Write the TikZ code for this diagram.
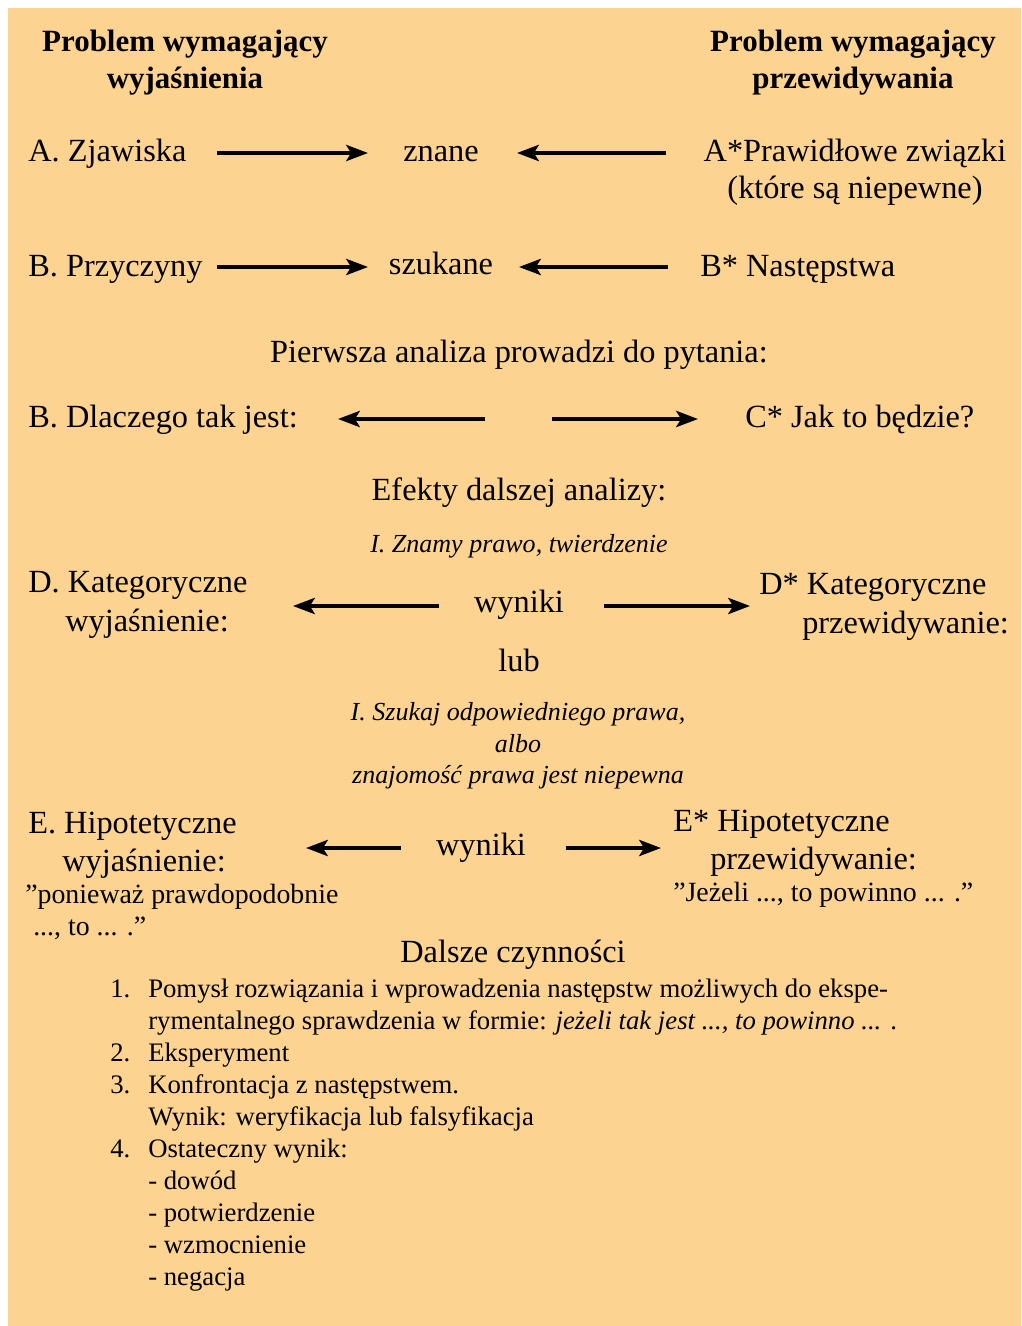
\documentclass[tikz,border=0pt]{standalone}
\usepackage{fontspec}
\setmainfont{Liberation Serif}
\usetikzlibrary{arrows.meta}
\definecolor{tlo}{RGB}{252,211,145}
\tikzset{
  tekst/.style={font=\fontsize{23pt}{28pt}\selectfont, inner sep=0pt},
  nagl/.style={font=\fontsize{22pt}{26pt}\selectfont\bfseries, inner sep=0pt, anchor=base},
  kurs/.style={font=\fontsize{18.5pt}{22pt}\selectfont\itshape, inner sep=0pt, anchor=base},
  maly/.style={font=\fontsize{19.8pt}{24pt}\selectfont, inner sep=0pt, anchor=base west},
  lista/.style={font=\fontsize{19pt}{22.8pt}\selectfont, inner sep=0pt, anchor=base west},
  strz/.style={-{Stealth[length=15.5pt,width=11.5pt,inset=3.5pt]}, line width=2.6pt}
}
\begin{document}
\begin{tikzpicture}[x=0.025cm, y=-0.025cm]
  \useasboundingbox (0,0) rectangle (1021,1326);
  \fill[white] (0,0) rectangle (1021,1326);
  \fill[tlo] (8,8) rectangle (1021,1326);
  % naglowki
  \node[nagl] (hdrL1) at (185,52) {Problem wymagający};
  \node[nagl] (hdrL2) at (185,89) {wyjaśnienia};
  \node[nagl] (hdrR1) at (853,52) {Problem wymagający};
  \node[nagl] (hdrR2) at (853,89) {przewidywania};
  % wiersz A
  \node[tekst, anchor=base west] (zjaw) at (28,162) {A. Zjawiska};
  \node[tekst, anchor=base] (znane) at (441,162) {znane};
  \node[tekst, anchor=base] (praw) at (855,162) {A*Prawidłowe związki};
  \node[tekst, anchor=base] (praw2) at (855,199) {(które są niepewne)};
  \coordinate (a1) at (217,153); \coordinate (a2) at (368,153);
  \coordinate (a3) at (666,153); \coordinate (a4) at (517,153);
  \draw[strz] (a1) -- (a2);
  \draw[strz] (a3) -- (a4);
  % wiersz B
  \node[tekst, anchor=base west] (przycz) at (28,276) {B. Przyczyny};
  \node[tekst, anchor=base] (szuk) at (441,275) {szukane};
  \node[tekst, anchor=base west] (nast) at (700,276) {B* Następstwa};
  \coordinate (b1) at (217,267); \coordinate (b2) at (368,267);
  \coordinate (b3) at (668,267); \coordinate (b4) at (519,267);
  \draw[strz] (b1) -- (b2);
  \draw[strz] (b3) -- (b4);
  % pytania
  \node[tekst, anchor=base] (pyt) at (519,362) {Pierwsza analiza prowadzi do pytania:};
  \node[tekst, anchor=base west] (dlacz) at (28,427) {B. Dlaczego tak jest:};
  \node[tekst, anchor=base west] (jak) at (745,427) {C* Jak to będzie?};
  \coordinate (c1) at (485,419); \coordinate (c2) at (338,419);
  \coordinate (c3) at (552,419); \coordinate (c4) at (698,419);
  \draw[strz] (c1) -- (c2);
  \draw[strz] (c3) -- (c4);
  % dalsza analiza
  \node[tekst, anchor=base] (efekty) at (519,500) {Efekty dalszej analizy:};
  \node[kurs] (znamy) at (519,552) {I. Znamy prawo, twierdzenie};
  \node[tekst, anchor=base west] (katL1) at (28,592) {D. Kategoryczne};
  \node[tekst, anchor=base west] (katL2) at (65,631) {wyjaśnienie:};
  \node[tekst, anchor=base] (wyn1) at (519,612) {wyniki};
  \node[tekst, anchor=base west] (katR1) at (759,594) {D* Kategoryczne};
  \node[tekst, anchor=base west] (katR2) at (802,633) {przewidywanie:};
  \coordinate (d1) at (439,606); \coordinate (d2) at (293,606);
  \coordinate (d3) at (604,606); \coordinate (d4) at (750,606);
  \draw[strz] (d1) -- (d2);
  \draw[strz] (d3) -- (d4);
  \node[tekst, anchor=base] (lub) at (519,671) {lub};
  \node[kurs] (szukaj) at (518,720) {I. Szukaj odpowiedniego prawa,};
  \node[kurs] (albo) at (518,752) {albo};
  \node[kurs] (znaj) at (518,783) {znajomość prawa jest niepewna};
  % hipotezy
  \node[tekst, anchor=base west] (hipL1) at (28,833) {E. Hipotetyczne};
  \node[tekst, anchor=base west] (hipL2) at (62,871) {wyjaśnienie:};
  \node[maly] (bo1) at (25,903) {”ponieważ prawdopodobnie};
  \node[maly] (bo2) at (33,935) {..., to ... .”};
  \node[tekst, anchor=base] (wyn2) at (481,855) {wyniki};
  \node[tekst, anchor=base west] (hipR1) at (673,831) {E* Hipotetyczne};
  \node[tekst, anchor=base west] (hipR2) at (710,869) {przewidywanie:};
  \node[maly] (jez) at (673,901) {”Jeżeli ..., to powinno ... .”};
  \coordinate (e1) at (401,848); \coordinate (e2) at (306,848);
  \coordinate (e3) at (566,848); \coordinate (e4) at (661,848);
  \draw[strz] (e1) -- (e2);
  \draw[strz] (e3) -- (e4);
  % dalsze czynnosci
  \node[tekst, anchor=base] (dalsze) at (513,962) {Dalsze czynności};
  \node[lista] (n1) at (110,997) {1.};
  \node[lista] (t1a) at (148,997) {Pomysł rozwiązania i wprowadzenia następstw możliwych do ekspe-};
  \node[lista] (t1b) at (148,1029) {rymentalnego sprawdzenia w formie: \textit{jeżeli tak jest ..., to powinno ...} .};
  \node[lista] (n2) at (110,1061) {2.};
  \node[lista] (t2) at (148,1061) {Eksperyment};
  \node[lista] (n3) at (110,1093) {3.};
  \node[lista] (t3a) at (148,1093) {Konfrontacja z następstwem.};
  \node[lista] (t3b) at (148,1125) {Wynik: weryfikacja lub falsyfikacja};
  \node[lista] (n4) at (110,1157) {4.};
  \node[lista] (t4) at (148,1157) {Ostateczny wynik:};
  \node[lista] (w1) at (148,1189) {- dowód};
  \node[lista] (w2) at (148,1221) {- potwierdzenie};
  \node[lista] (w3) at (148,1253) {- wzmocnienie};
  \node[lista] (w4) at (148,1285) {- negacja};
\end{tikzpicture}
\end{document}
